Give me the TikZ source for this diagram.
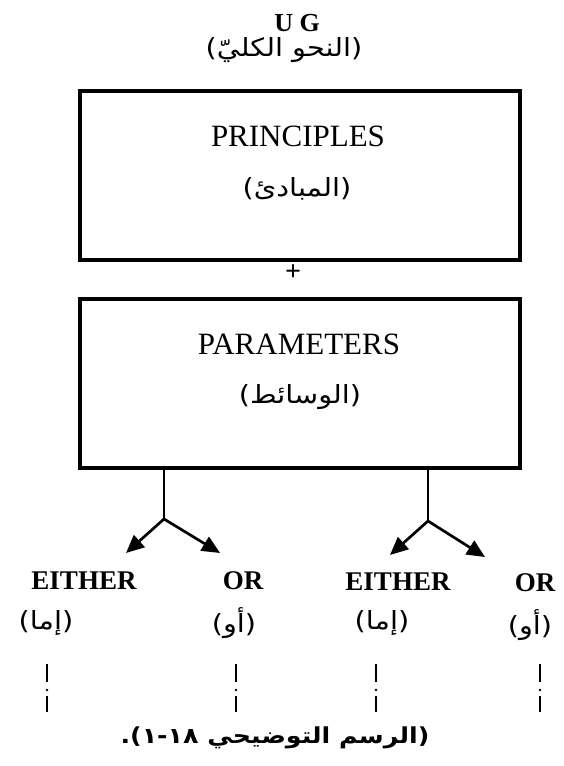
\documentclass[tikz,border=0pt]{standalone}
\usepackage{fontspec}
\setmainfont{Liberation Serif}
\newfontfamily\arabicfont[Script=Arabic,FakeStretch=1.15]{DejaVu Sans}
\TeXXeTstate=1
\usetikzlibrary{arrows.meta}
\newcommand{\artxt}[1]{{\arabicfont\beginR #1\endR}}
\begin{document}
\begin{tikzpicture}[x=1pt,y=-1pt,
  boxstyle/.style={draw,line width=3.8pt,minimum width=440pt,minimum height=169pt,anchor=north west,inner sep=0pt},
  conn/.style={line width=2.7pt},
  arr/.style={conn,-{Triangle[length=18pt,width=16pt]}},
  en/.style={font=\fontsize{31}{36}\selectfont,inner sep=0pt},
  lab/.style={font=\bfseries\fontsize{27}{32}\selectfont,inner sep=0pt},
  arl/.style={font=\fontsize{25}{30}\selectfont,inner sep=0pt},
  brk/.style={line width=2.3pt}]
\useasboundingbox (0,0) rectangle (564,766);
% title
\node[font=\bfseries\fontsize{26}{30}\selectfont,inner sep=0pt] (ug) at (297,23) {U G};
\node[arl] (ugar) at (284,50) {\artxt{(النحو الكليّ)}};
% boxes
\node[boxstyle] (b1) at (78,89) {};
\node[en] (pr) at (298,136) {PRINCIPLES};
\node[arl] (prar) at (297,189) {\artxt{(المبادئ)}};
\node[font=\bfseries\fontsize{28}{32}\selectfont,inner sep=0pt] (plus) at (293,273) {+};
\node[boxstyle] (b2) at (78,297) {};
\node[en] (pa) at (299,344) {PARAMETERS};
\node[arl] (paar) at (300,397) {\artxt{(الوسائط)}};
% branches
\coordinate (jl) at (164,519);
\coordinate (jr) at (428,521);
\coordinate (tl1) at (126,553);
\coordinate (tl2) at (220,553);
\coordinate (tr1) at (390,555);
\coordinate (tr2) at (485,557);
\draw[conn] (b2.south -| jl) -- (jl);
\draw[conn] (b2.south -| jr) -- (jr);
\draw[arr] (jl) -- (tl1);
\draw[arr] (jl) -- (tl2);
\draw[arr] (jr) -- (tr1);
\draw[arr] (jr) -- (tr2);
% labels
\node[lab] (e1) at (84,581) {EITHER};
\node[lab] (o1) at (243,581) {OR};
\node[lab] (e2) at (398,582) {EITHER};
\node[lab] (o2) at (535,583) {OR};
\node[arl] (e1a) at (46,623) {\artxt{(إما)}};
\node[arl] (o1a) at (234,623) {\artxt{(أو)}};
\node[arl] (e2a) at (382,623) {\artxt{(إما)}};
\node[arl] (o2a) at (530,625) {\artxt{(أو)}};
% broken lines
\foreach \x in {47,236,376,540}{
  \draw[brk] (\x,664) -- (\x,682);
  \fill (\x,690) circle (1.3pt);
  \draw[brk] (\x,696) -- (\x,712);
}
% caption
\node[font=\bfseries\fontsize{22}{26}\selectfont,inner sep=0pt] (cap) at (275,738) {\artxt{(الرسم التوضيحي ١٨-١).}};
\end{tikzpicture}
\end{document}
